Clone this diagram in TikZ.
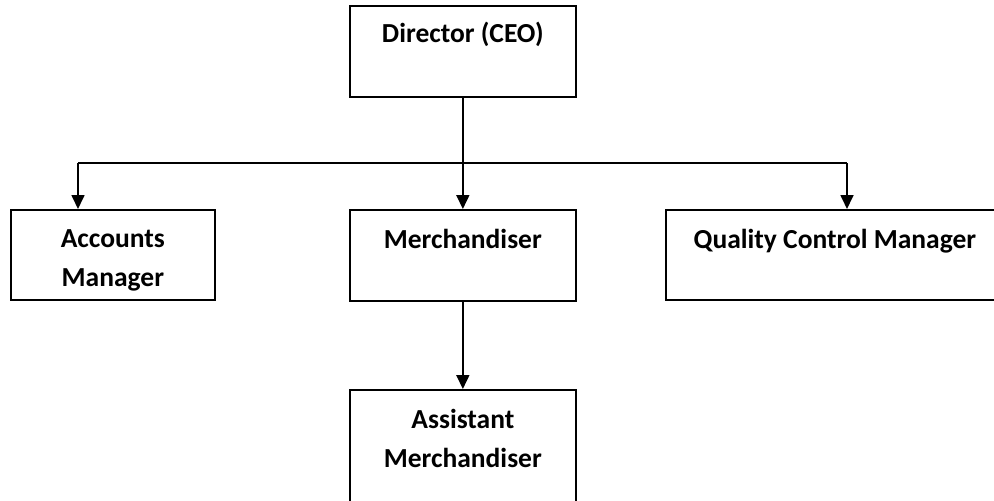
\documentclass[tikz,border=0pt]{standalone}
\usepackage{fontspec}
\setmainfont{Carlito}
\usepackage{tikz}
\usetikzlibrary{arrows.meta}

\begin{document}
\begin{tikzpicture}[x=1pt, y=-1pt,
    every node/.style={align=center, font=\bfseries\fontsize{27.5pt}{39pt}\selectfont},
    post/.style={draw, line width=1.7pt, anchor=north west, inner xsep=0pt, inner ysep=0pt},
    link/.style={line width=1.7pt, -{Triangle[length=14pt, width=13pt]}}]
  \useasboundingbox (0,0) rectangle (994,501);

  \node[post, minimum width=226pt, text height=37pt, text depth=54pt] (CEO) at (349,5) {Director (CEO)};
  \node[post, minimum width=204pt, text height=77pt, text depth=13pt] (ACC) at (10,209) {Accounts\\Manager};
  \node[post, minimum width=226pt, text height=39pt, text depth=52pt] (MER) at (349,209) {Merchandiser};
  \node[post, minimum width=338pt, text height=39pt, text depth=51pt] (QCM) at (665,209) {Quality Control Manager};
  \node[post, minimum width=226pt, text height=78pt, text depth=52pt] (AMR) at (349,389) {Assistant\\Merchandiser};

  \coordinate (bus) at (CEO.south |- 0,163);
  \coordinate (busL) at (78,163);
  \coordinate (busR) at (847,163);

  \draw[line width=1.7pt] (CEO) -- (bus);
  \draw[line width=1.7pt] (busL) -- (busR);
  \draw[link] (bus) -- (MER);
  \draw[link] (busL) -- (busL |- ACC.north);
  \draw[link] (busR) -- (busR |- QCM.north);
  \draw[link] (MER) -- (AMR);
\end{tikzpicture}
\end{document}
